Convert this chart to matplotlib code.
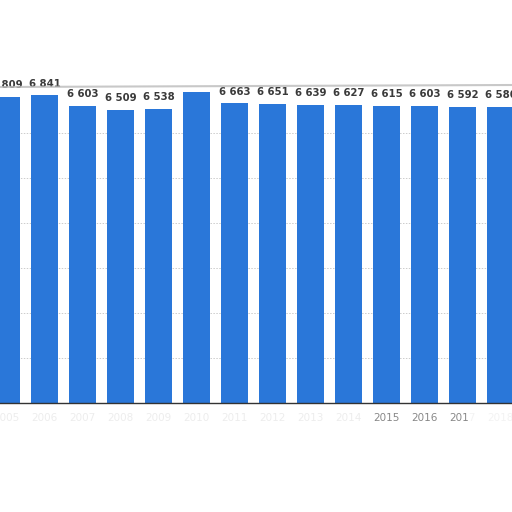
import matplotlib.pyplot as plt
from matplotlib.patches import Rectangle

# 연도별 값 (그림에서 읽은 값, 2010은 라벨이 가려져 막대 높이로 추정)
years = [2005, 2006, 2007, 2008, 2009, 2010, 2011, 2012,
         2013, 2014, 2015, 2016, 2017, 2018]
values = [6809, 6841, 6603, 6509, 6538, 6911, 6663, 6651,
          6639, 6627, 6615, 6603, 6592, 6580]
grid_ticks = [1000, 2000, 3000, 4000, 5000, 6000]

bar_color = '#2a77d9'

fig = plt.figure(figsize=(5.12, 5.12), dpi=100)
base = 403.3 / 512
ax = fig.add_axes([0, 1 - base, 1, base])

x = list(range(len(years)))
bars = ax.bar(x, values, width=0.71, color=bar_color, zorder=2)

for xi, v in zip(x, values):
    ax.annotate(f'{v:,}'.replace(',', ' '), (xi, v), xytext=(0, 5),
                textcoords='offset points', ha='center', va='bottom',
                fontsize=7.3, fontweight='bold', color='#3a3a3a')

ax.set_xlim(-0.171, 13.30)
ax.set_ylim(0, 403.3 / 0.045)
ax.set_yticks(grid_ticks)
ax.yaxis.grid(True, linestyle=(0, (1.5, 1.5)), color='#cccccc', linewidth=0.7, zorder=0)
ax.tick_params(axis='y', left=False, labelleft=False)
ax.set_xticks(x)
ax.set_xticklabels([str(y) for y in years], fontsize=7.5, color='#888888')
ax.tick_params(axis='x', length=0, pad=7)
for s in ['top', 'left', 'right']:
    ax.spines[s].set_visible(False)
ax.spines['bottom'].set_color('#333333')
ax.spines['bottom'].set_linewidth(1.0)

# 위/아래 찢어진 종이 느낌의 가림 영역
fig.patches.append(Rectangle((0, 1 - 78 / 512), 60 / 512, 78 / 512, transform=fig.transFigure,
                             facecolor='white', edgecolor='none', zorder=5))
fig.patches.append(Rectangle((60 / 512, 1 - 86 / 512), 452 / 512, 86 / 512, transform=fig.transFigure,
                             facecolor='white', edgecolor='none', zorder=5))
fig.lines.append(plt.Line2D([0, 1], [1 - 87 / 512, 1 - 85 / 512], transform=fig.transFigure,
                            color='#bbbbbb', linewidth=1.5, alpha=0.8, zorder=6))
fig.patches.append(Rectangle((0, 1 - 432 / 512), 372 / 512, 25 / 512, transform=fig.transFigure,
                             facecolor='white', edgecolor='none', alpha=0.85, zorder=5))
fig.patches.append(Rectangle((468 / 512, 1 - 432 / 512), 44 / 512, 25 / 512, transform=fig.transFigure,
                             facecolor='white', edgecolor='none', alpha=0.9, zorder=5))

fig.savefig('out.png', dpi=100)
